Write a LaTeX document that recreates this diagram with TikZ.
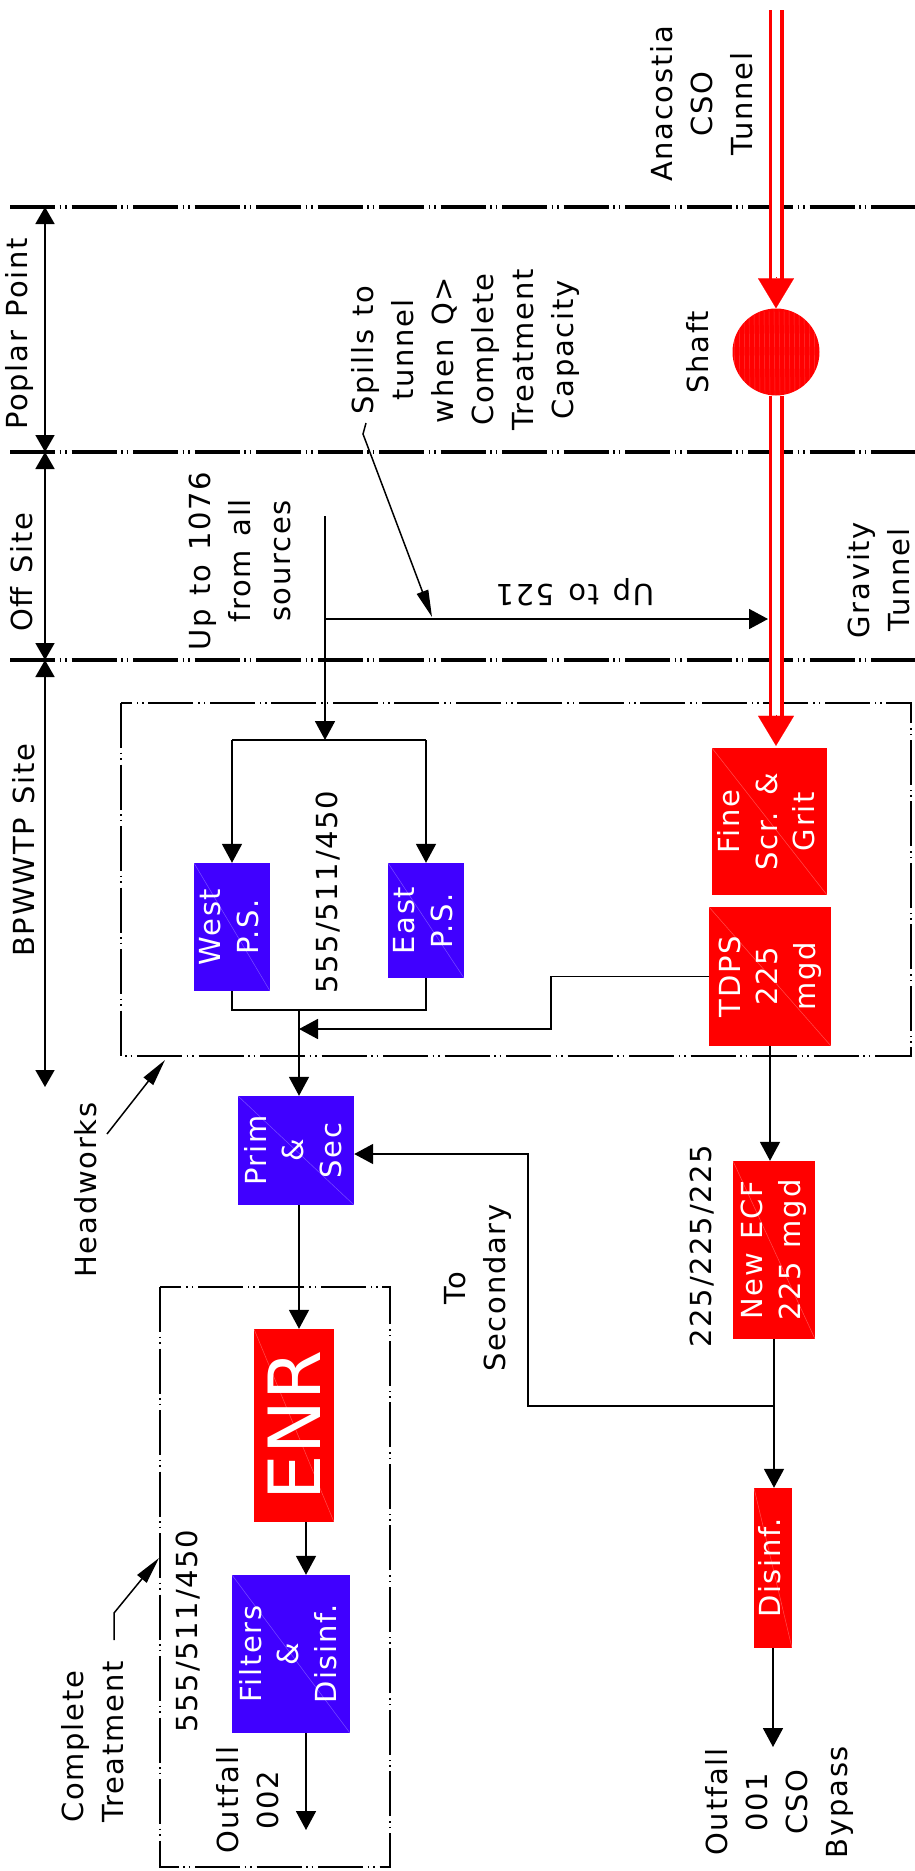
\documentclass[tikz,border=0pt]{standalone}
\usepackage{fontspec}
\usepackage{graphicx}
\setmainfont{DejaVu Sans}[LetterSpace=6,WordSpace=1.25]
\newfontfamily\enrfont{DejaVu Sans}
\usetikzlibrary{arrows.meta,calc}
\definecolor{pblue}{RGB}{64,0,255}
\definecolor{pred}{RGB}{255,0,0}
\newcommand{\bodyfont}{\fontsize{29}{40}\selectfont}
\newcommand{\boxfont}{\fontsize{29}{37.5}\selectfont}
\newcommand{\rt}[1]{\rotatebox{90}{\begin{tabular}{@{}c@{}}#1\end{tabular}}}
\tikzset{
  siteline/.style={line width=4.5pt, dash pattern=on 45pt off 4.5pt on 1.5pt off 4pt on 1.5pt off 5pt},
  areabox/.style={line width=1.8pt, dash pattern=on 45pt off 4.5pt on 1.5pt off 4pt on 1.5pt off 5pt},
  dim/.style={line width=1.8pt, {Triangle[length=17pt,width=19pt]}-{Triangle[length=17pt,width=19pt]}},
  plain/.style={line width=1.8pt},
  conn/.style={line width=1.8pt, -{Triangle[length=19pt,width=20pt]}},
  leader/.style={line width=1.5pt, -{Triangle[length=27pt,width=12pt]}},
  tunnel/.style={draw=pred, line width=3.5pt, double=white, double distance=8pt},
  redtip/.style={draw=pred, line width=0.1pt, -{Triangle[length=30pt,width=36pt]}},
  lbl/.style={inner sep=0pt, align=center, font=\bodyfont},
  rlbl/.style={lbl, rotate=90},
  box/.style={inner sep=0pt, text=white, font=\boxfont,
    path picture={\draw[white, opacity=0.3, line width=0.5pt]
      (path picture bounding box.north west) -- (path picture bounding box.south east);}},
  bluebox/.style={box, fill=pblue},
  redbox/.style={box, fill=pred},
  shaftstyle/.style={circle, fill=pred, minimum size=87pt, inner sep=0pt,
    path picture={\foreach \k in {-42,-37,...,42}
      {\draw[white, opacity=0.22, line width=0.4pt]
        ([xshift=\k pt]path picture bounding box.north) -- ([xshift=\k pt+1pt]path picture bounding box.south);}}},
}
\begin{document}
\begin{tikzpicture}[x=1pt,y=-1pt]
\useasboundingbox (0,0) rectangle (915,1871);
\fill[white] (0,0) rectangle (915,1871);

% site boundaries
\draw[siteline] (10,207) -- (915,207);
\draw[siteline] (10,452) -- (915,452);
\draw[siteline] (10,660) -- (915,660);

% area boxes
\draw[areabox] (121,703) rectangle (911,1056);
\draw[areabox] (160,1287) rectangle (390,1867);

% dimension arrows
\coordinate (d1) at (45,207);
\coordinate (d2) at (45,452);
\coordinate (d3) at (45,660);
\coordinate (d4) at (45,1087);
\draw[dim] (d1) -- (d2);
\draw[dim] (d2) -- (d3);
\draw[dim] (d3) -- (d4);

% labels
\node[rlbl] (anac) at (702,104) {Anacostia\\CSO\\Tunnel};
\node[rlbl] (pp) at (19,334) {Poplar Point};
\node[rlbl] (off) at (22,572) {Off Site};
\node[rlbl] (bp) at (24,850) {BPWWTP Site};
\node[rlbl] (spill) at (465,350) {Spills to\\tunnel\\when Q>\\Complete\\Treatment\\Capacity};
\node[rlbl] (shl) at (698,352) {Shaft};
\node[rlbl] (u1076) at (240,561) {Up to 1076\\from all\\sources};
\node[lbl, rotate=180] (u521) at (575,592) {Up to 521};
\node[rlbl] (grav) at (879,580) {Gravity\\Tunnel};
\node[rlbl] (q1) at (328,892) {555/511/450};
\node[rlbl] (hwt) at (86,1190) {Headworks};
\node[rlbl] (q2) at (702,1246) {225/225/225};
\node[rlbl] (tosec) at (478,1288) {To\\Secondary};
\node[rlbl] (q3) at (188,1631) {555/511/450};
\node[rlbl, anchor=west, align=left] (ctt) at (93,1823) {Complete\\Treatment};
\node[rlbl] (o2t) at (248,1800) {Outfall\\002};
\node[rlbl] (o1t) at (779,1802) {Outfall\\001\\CSO\\Bypass};

% process boxes
\node[bluebox, minimum width=76pt, minimum height=128pt] (west) at (232,927) {\rt{West\\P.S.}};
\node[bluebox, minimum width=76pt, minimum height=115pt] (east) at (426,920.5) {\rt{East\\P.S.}};
\node[redbox, minimum width=115pt, minimum height=147pt] (fine) at (769.5,821.5) {\rt{Fine\\Scr. \&\\Grit}};
\node[redbox, minimum width=122pt, minimum height=139pt] (tdps) at (770,976.5) {\rt{TDPS\\225\\mgd}};
\node[bluebox, minimum width=116pt, minimum height=109pt] (prim) at (296,1150.5) {\rt{Prim\\\&\\Sec}};
\node[redbox, minimum width=82pt, minimum height=178pt] (necf) at (774,1250) {\rt{New ECF\\225 mgd}};
\node[redbox, minimum width=80pt, minimum height=193pt] (enr) at (294,1425.5) {\rotatebox{90}{\enrfont\fontsize{72}{80}\selectfont ENR}};
\node[bluebox, minimum width=118pt, minimum height=158pt] (fil) at (291,1654) {\rt{Filters\\\&\\Disinf.}};
\node[redbox, minimum width=38pt, minimum height=160pt] (dis) at (773,1568) {\rt{Disinf.}};
\node[shaftstyle] (shaft) at (776,352) {};

% tunnel
\coordinate (tin) at (776,10);
\draw[tunnel, shorten >=29pt] (tin) -- (shaft.north);
\draw[redtip] ($(shaft.north)+(0,-31)$) -- (shaft.north);
\coordinate (ftop) at ($(shaft.south |- fine.north)+(0,-2)$);
\draw[tunnel, shorten >=29pt] (shaft.south) -- (ftop);
\draw[redtip] ($(ftop)+(0,-31)$) -- (ftop);

% inflow
\coordinate (src) at (325,516);
\coordinate (br) at (325,740);
\coordinate (g521) at (768,619);
\draw[conn] (src) -- (br);
\draw[conn] (src |- g521) -- (g521);
\coordinate (brl) at (west.north |- br);
\coordinate (brr) at (east.north |- br);
\draw[plain] (brl) -- (brr);
\draw[conn] (brl) -- (west.north);
\draw[conn] (brr) -- (east.north);

% merge to primary
\coordinate (mrg) at (299,1010);
\draw[plain] (west.south) -- (west.south |- mrg) -- (east.south |- mrg) -- (east.south);
\draw[conn] (mrg) -- (mrg |- prim.north);
\coordinate (tk) at (551,1029);
\draw[conn] (tdps.west) -| (tk) -- (mrg |- tk);

% complete treatment train
\draw[conn] (mrg |- prim.south) -- (mrg |- enr.north);
\coordinate (fx) at (306,1522);
\draw[conn] (fx) -- (fx |- fil.north);
\coordinate (o2) at (306,1830);
\draw[conn] (o2 |- fil.south) -- (o2);

% wet weather train
\draw[conn] (tdps.south) -- (tdps.south |- necf.north);
\draw[conn] (necf.south) -- (necf.south |- dis.north);
\coordinate (j2) at (774,1406);
\coordinate (sx) at (528,1154);
\draw[conn] (j2) -- (j2 -| sx) -- (sx) -- (sx -| prim.east);
\coordinate (o1) at (773,1747);
\draw[conn] (dis.south) -- (o1);

% leaders
\coordinate (hwl0) at (107,1134);
\coordinate (hwl1) at (165,1060);
\draw[leader] (hwl0) -- (hwl1);
\coordinate (ct0) at (114,1640);
\coordinate (ct1) at (114,1613);
\coordinate (ct2) at (159,1558);
\draw[leader] (ct0) -- (ct1) -- (ct2);
\coordinate (sp0) at (366,423);
\coordinate (sp1) at (363,434);
\coordinate (sp2) at (432,617);
\draw[leader] (sp0) -- (sp1) -- (sp2);
\end{tikzpicture}
\end{document}
